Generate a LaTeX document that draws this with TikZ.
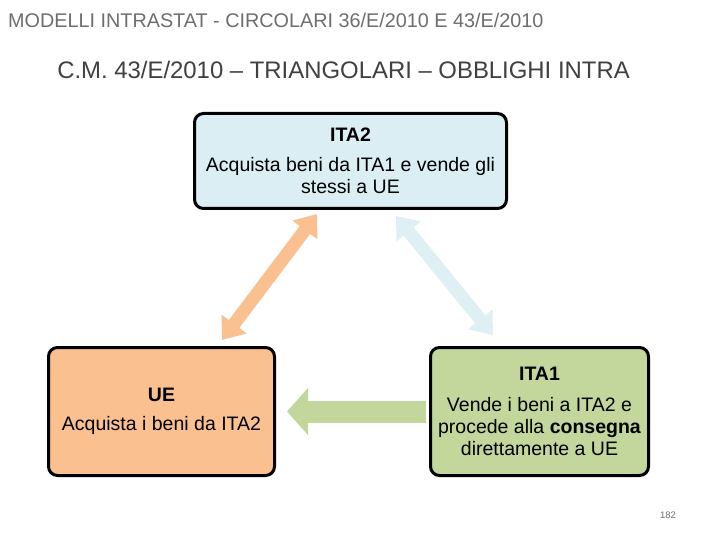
\documentclass[tikz,border=0pt]{standalone}
\usepackage{fontspec}
\setmainfont{Liberation Sans}
\usetikzlibrary{arrows.meta, positioning, calc}
\definecolor{HeadGray}{RGB}{110,110,110}
\definecolor{TitleGray}{RGB}{64,64,64}
\definecolor{BoxCyan}{RGB}{219,238,243}
\definecolor{BoxPeach}{RGB}{250,192,144}
\definecolor{BoxOlive}{RGB}{195,214,155}
\definecolor{ArrCyan}{RGB}{222,240,243}

\begin{document}
\begin{tikzpicture}[x=1pt, y=-1pt,
  box/.style={draw=black, line width=3pt, rounded corners=9pt,
    align=center, inner sep=2pt, font=\fontsize{19.5}{22}\selectfont},
  darr/.style={{Triangle[length=20pt, width=30pt]}-{Triangle[length=20pt, width=30pt]}, line width=13pt},
  sarr/.style={-{Triangle[length=21pt, width=46pt]}, line width=22pt}
]
\fill[white] (0,0) rectangle (720,540);
\useasboundingbox (0,0) rectangle (720,540);

% Titles
\node[anchor=west, inner sep=0pt, font=\fontsize{19.8}{22}\selectfont, text=HeadGray]
  (head) at (8,20) {MODELLI INTRASTAT - CIRCOLARI 36/E/2010 E 43/E/2010};
\node[inner sep=0pt, font=\fontsize{23.9}{26}\selectfont, text=TitleGray]
  (title) at (343.5,70) {C.M. 43/E/2010 – TRIANGOLARI – OBBLIGHI INTRA};

% Boxes
\node[box, fill=BoxCyan, minimum width=312pt, minimum height=95pt] (ita2) at (350.5,161)
  {\textbf{ITA2}\\[8pt]Acquista beni da ITA1 e vende gli\\stessi a UE};
\node[box, fill=BoxPeach, minimum width=226pt, minimum height=128pt] (ue) at (161.5,411.5)
  {\textbf{UE}\\[7pt]Acquista i beni da ITA2};
\node[box, fill=BoxOlive, minimum width=218pt, minimum height=128pt] (ita1) at (539.5,411.5)
  {\textbf{ITA1}\\[9pt]Vende i beni a ITA2 e\\procede alla \textbf{consegna}\\direttamente a UE};

% Arrows
\draw[darr, BoxPeach] ($(ue.north)+(60.5,-6)$) -- ($(ita2.south)+(-33.5,4)$);
\draw[darr, ArrCyan] ($(ita2.south)+(45.5,6)$) -- ($(ita1.north)+(-46.5,-11)$);
\draw[sarr, BoxOlive] ($(ita1.west)+(-3,0)$) -- ($(ue.east)+(11,0)$);

\node[font=\fontsize{9.5}{11}\selectfont, text=HeadGray, inner sep=0pt] (page) at (668,515) {182};
\end{tikzpicture}
\end{document}
